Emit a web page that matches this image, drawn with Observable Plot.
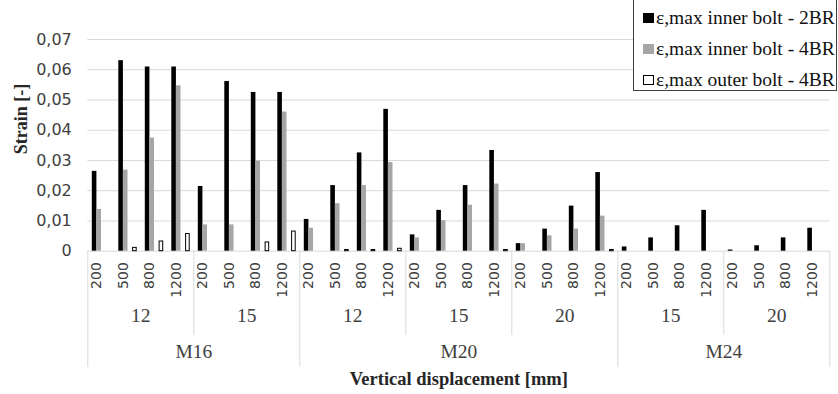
<!DOCTYPE html>
<html>
<head>
<meta charset="utf-8">
<script src="https://cdn.jsdelivr.net/npm/d3@7"></script>
<script src="https://cdn.jsdelivr.net/npm/@observablehq/plot@0.6"></script>
<style>
  body { margin: 0; background: #fff; }
  #wrap { position: relative; width: 838px; height: 394px; overflow: hidden; }
  #legend {
    position: absolute; left: 633px; top: -5px; width: 204px; height: 96px;
    box-sizing: border-box; border: 1px solid #404040; background: #fff;
    padding-top: 6px; font-family: "Liberation Serif", serif; font-size: 19.5px; color: #111;
  }
  .row { height: 31px; display: flex; align-items: center; white-space: nowrap; }
  .sw { width: 11px; height: 10px; margin-left: 9px; margin-right: 2px; box-sizing: border-box; flex: none; }
</style>
</head>
<body>
<div id="wrap"></div>
<script>
// ---- data ----
const boltLabels = ["M16", "M20", "M24"];
const groupLabels = ["12", "15", "12", "15", "20", "15", "20"];
const groupBolt = ["M16", "M16", "M20", "M20", "M20", "M24", "M24"];
const displacements = ["200", "500", "800", "1200"];
const seriesNames = ["ε,max inner bolt - 2BR", "ε,max inner bolt - 4BR", "ε,max outer bolt - 4BR"];
const inner2BR = [0.0264, 0.0630, 0.0609, 0.0609, 0.0214, 0.0561, 0.0525, 0.0525,
                  0.0105, 0.0217, 0.0325, 0.0469, 0.0054, 0.0135, 0.0217, 0.0333,
                  0.0025, 0.0073, 0.0149, 0.0260, 0.0014, 0.0044, 0.0084, 0.0135,
                  0.0004, 0.0018, 0.0044, 0.0076];
const inner4BR = [0.0138, 0.0268, 0.0374, 0.0547, 0.0087, 0.0087, 0.0298, 0.0460,
                  0.0076, 0.0157, 0.0217, 0.0293, 0.0044, 0.0101, 0.0152, 0.0222,
                  0.0025, 0.0051, 0.0073, 0.0116, 0, 0, 0, 0,
                  0, 0, 0, 0];
const outer4BR = [0, 0.0011, 0.0032, 0.0057, 0, 0, 0.0029, 0.0065,
                  0, 0.0004, 0.0004, 0.0008, 0, 0, 0, 0.0004,
                  0, 0, 0, 0.0004, 0, 0, 0, 0,
                  0, 0, 0, 0];
const yTicks = [0, 0.01, 0.02, 0.03, 0.04, 0.05, 0.06, 0.07];

// ---- derived tables ----
const seriesValues = [inner2BR, inner4BR, outer4BR];
const seriesSlot = [0, 1, 3];            // slot 2 is an empty (hidden) series in the original
const slotOffset = 0.17, slotWidth = 0.1736;
const seriesFill = ["#000000", "#a6a6a6", "#ffffff"];
const seriesStroke = ["none", "none", "#000000"];

const cats = [];
groupLabels.forEach((g, gi) => displacements.forEach(d => cats.push({gi, group: g, bolt: groupBolt[gi], disp: d, i: cats.length})));
const N = cats.length;

const bars = [];
seriesValues.forEach((vals, s) => vals.forEach((v, i) => {
  if (v > 0) bars.push({s, i, v, x1: i + slotOffset + seriesSlot[s] * slotWidth, x2: i + slotOffset + (seriesSlot[s] + 1) * slotWidth});
}));

const groups = groupLabels.map((g, gi) => ({label: g, start: gi * 4, end: gi * 4 + 4}));
const bolts = boltLabels.map(b => {
  const idx = cats.filter(c => c.bolt === b).map(c => c.i);
  return {label: b, start: d3.min(idx), end: d3.max(idx) + 1};
});
const groupBounds = Array.from(new Set(groups.flatMap(g => [g.start, g.end])));
const boltBounds = Array.from(new Set(bolts.flatMap(b => [b.start, b.end])));
const innerBounds = groupBounds.filter(b => !boltBounds.includes(b));

const marginTop = 39, marginBottom = 143.3, marginLeft = 87.3, marginRight = 8.7, H = 394;
const frameH = H - marginTop - marginBottom;
const fmt = d => d === 0 ? "0" : d3.format(".2f")(d).replace(".", ",");
const tickColor = "#404040";
const serif = "'Liberation Serif', 'Times New Roman', serif";
const sans = "'DejaVu Sans', Verdana, sans-serif";

const chart = Plot.plot({
  width: 838, height: H,
  marginTop, marginBottom, marginLeft, marginRight,
  x: {type: "linear", domain: [0, N], axis: null},
  y: {domain: [0, 0.07], axis: null},
  style: {background: "#fff"},
  marks: [
    Plot.ruleY(yTicks, {y: d => d, stroke: "#d9d9d9", strokeWidth: 1}),
    Plot.rectY(bars.filter(b => b.s < 2), {x1: "x1", x2: "x2", y1: 0, y2: "v",
      fill: b => seriesFill[b.s], stroke: "none", insetLeft: 0, insetRight: 0}),
    Plot.rectY(bars.filter(b => b.s === 2), {x1: "x1", x2: "x2", y1: 0, y2: "v",
      fill: "#ffffff", stroke: "#000000", strokeWidth: 1, insetLeft: 0.5, insetRight: 0.5}),
    // y tick labels
    Plot.text(yTicks, {y: d => d, text: fmt, frameAnchor: "left", dx: -16, textAnchor: "end",
      fontFamily: sans, fontSize: 16, fill: tickColor}),
    // category separators (group level and bolt level)
    Plot.ruleX(innerBounds, {x: d => d, stroke: "#d9d9d9", insetTop: frameH, insetBottom: -84.3}),
    Plot.ruleX(boltBounds, {x: d => d, stroke: "#d9d9d9", insetTop: frameH, insetBottom: -116.3}),
    // displacement labels (rotated)
    Plot.text(cats, {x: c => c.i + 0.5, text: "disp", frameAnchor: "bottom", dy: 11, rotate: -90,
      textAnchor: "end", fontFamily: sans, fontSize: 14, fill: tickColor}),
    // group labels
    Plot.text(groups, {x: g => (g.start + g.end) / 2, text: "label", frameAnchor: "bottom", dy: 71,
      fontFamily: serif, fontSize: 19.5, fill: tickColor}),
    // bolt labels
    Plot.text(bolts, {x: b => (b.start + b.end) / 2, text: "label", frameAnchor: "bottom", dy: 106.5,
      fontFamily: serif, fontSize: 19.5, fill: tickColor}),
    // axis titles
    Plot.text(["Vertical displacement [mm]"], {frameAnchor: "bottom", dy: 133.5,
      fontFamily: serif, fontSize: 18.5, fontWeight: "bold", fill: "#262626"}),
    Plot.text(["Strain [-]"], {frameAnchor: "left", dx: -67, dy: 9, rotate: -90,
      fontFamily: serif, fontSize: 18, fontWeight: "bold", fill: "#262626"})
  ]
});
document.getElementById("wrap").appendChild(chart);

// legend
const legend = document.createElement("div");
legend.id = "legend";
seriesNames.forEach((name, s) => {
  const row = document.createElement("div");
  row.className = "row";
  const sw = document.createElement("span");
  sw.className = "sw";
  sw.style.background = seriesFill[s];
  if (seriesStroke[s] !== "none") sw.style.border = "1px solid " + seriesStroke[s];
  const t = document.createElement("span");
  t.textContent = name;
  row.appendChild(sw); row.appendChild(t);
  legend.appendChild(row);
});
document.getElementById("wrap").appendChild(legend);
</script>
</body>
</html>
